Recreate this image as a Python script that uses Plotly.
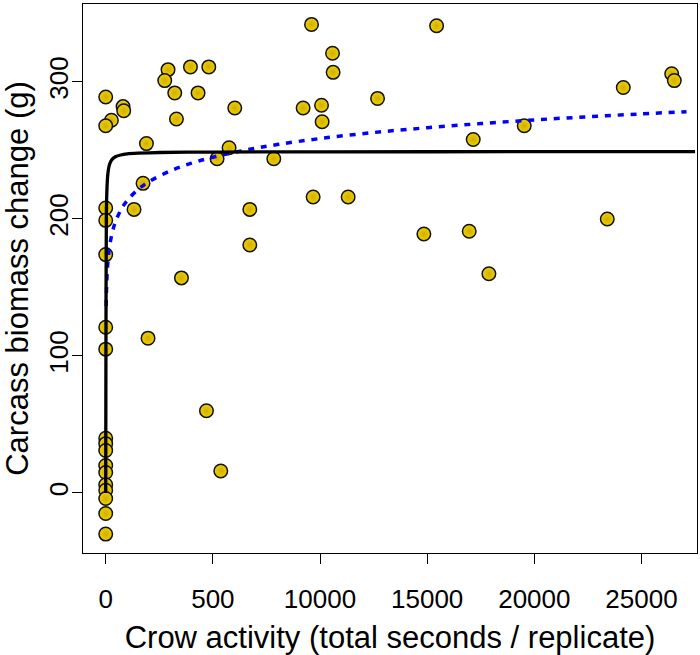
import plotly.graph_objects as go

# Observed replicates: crow activity (s) vs carcass biomass change (g)
crow_seconds = [
    9603, 10584, 10611, 2908, 2754, 3954, 4809, 3221, 4309, 0,
    808, 840, 266, 0, 3300, 6022, 9211, 10070, 10098, 1900,
    5756, 5196, 7843, 1741, 0, 0, 1321, 6723, 9678, 11312,
    6723, 0, 3534, 0, 0, 1975, 4701, 5369,
    0, 0, 0, 0, 0, 0, 0, 0, 0, 0,
    15439, 12684, 24150, 26410, 26531, 19529, 17148, 14846, 16961, 23403, 17880,
]
biomass_change = [
    342, 321, 307, 309, 301, 311, 311, 292, 292, 289,
    282, 279, 272, 268, 273, 281, 281, 283, 271, 255,
    252, 244, 244, 226, 208, 199, 207, 207, 216, 216,
    181, 174, 157, 121, 105, 113, 60, 16,
    40, 36, 31, 20, 15, 6, 2, -4, -15, -30,
    341, 288, 296, 306, 301, 268, 258, 189, 191, 200, 160,
]

# Fitted curves
solid_fit_x = [0, 10, 30, 60, 100, 150, 200, 300, 450, 700, 1000, 1500,
               2500, 5000, 10000, 20000, 27500]
solid_fit_y = [0, 102.6, 202, 223, 232.9, 238.1, 240.8, 243.5, 245.4, 246.7,
               247.5, 248.0, 248.5, 248.85, 249.0, 249.1, 249.1]

dashed_fit_x = [20, 50, 100, 200, 400, 700, 1000, 1500, 2000, 3000, 4000,
                5000, 6500, 8000, 10000, 12500, 15000, 17500, 20000, 22500,
                25000, 27100]
dashed_fit_y = [136.5, 154.5, 168.1, 181.8, 195.4, 206.4, 213.4, 221.4, 227.0,
                235.0, 240.7, 245.1, 250.2, 254.3, 258.7, 263.1, 266.6, 269.6,
                272.3, 274.6, 276.7, 278.3]

x_tick_vals = [0, 5000, 10000, 15000, 20000, 25000]
x_tick_text = ["0", "500", "10000", "15000", "20000", "25000"]
y_tick_vals = [0, 100, 200, 300]
y_tick_text = ["0", "100", "200", "300"]

FONT = "Liberation Sans, Arial, Helvetica, sans-serif"

fig = go.Figure()
fig.add_trace(go.Scatter(
    x=crow_seconds, y=biomass_change, mode="markers",
    marker=dict(size=13.5, color="#F0D000",
                gradient=dict(type="radial", color="#CFAE00"),
                line=dict(color="#111111", width=1.5)),
    showlegend=False, hoverinfo="x+y",
))
fig.add_trace(go.Scatter(
    x=dashed_fit_x, y=dashed_fit_y, mode="lines", line_shape="spline",
    line=dict(color="#0000FF", width=3.5, dash="6px,6.8px"),
    showlegend=False,
))
fig.add_trace(go.Scatter(
    x=solid_fit_x, y=solid_fit_y, mode="lines", line_shape="spline",
    line=dict(color="black", width=3.3, smoothing=0.6),
    showlegend=False,
))

axis_common = dict(
    showline=True, mirror=True, linecolor="black", linewidth=1,
    ticks="outside", ticklen=10, tickwidth=1, tickcolor="black",
    showgrid=False, zeroline=False, automargin=False,
    tickfont=dict(family=FONT, size=26, color="black"),
)

fig.update_layout(
    width=700, height=655,
    margin=dict(l=83, r=3, t=4, b=102),
    paper_bgcolor="white", plot_bgcolor="white",
    font=dict(family=FONT, color="black"),
    xaxis=dict(
        range=[-1060, 27590],
        tickmode="array", tickvals=x_tick_vals, ticktext=x_tick_text,
        title=dict(text="Crow activity (total seconds / replicate)",
                   font=dict(family=FONT, size=31), standoff=28),
        ticklabelstandoff=13,
        **axis_common,
    ),
    yaxis=dict(
        range=[-43.8, 356.9],
        tickmode="array", tickvals=y_tick_vals, ticktext=y_tick_text,
        tickangle=-90,
        title=dict(text="Carcass biomass change (g)",
                   font=dict(family=FONT, size=31), standoff=20),
        ticklabelstandoff=-6,
        **axis_common,
    ),
)

fig.write_html("out.html",
               config={"displayModeBar": False},
               post_script="document.body.style.margin='0px';"
                           "document.body.style.overflow='hidden';")
